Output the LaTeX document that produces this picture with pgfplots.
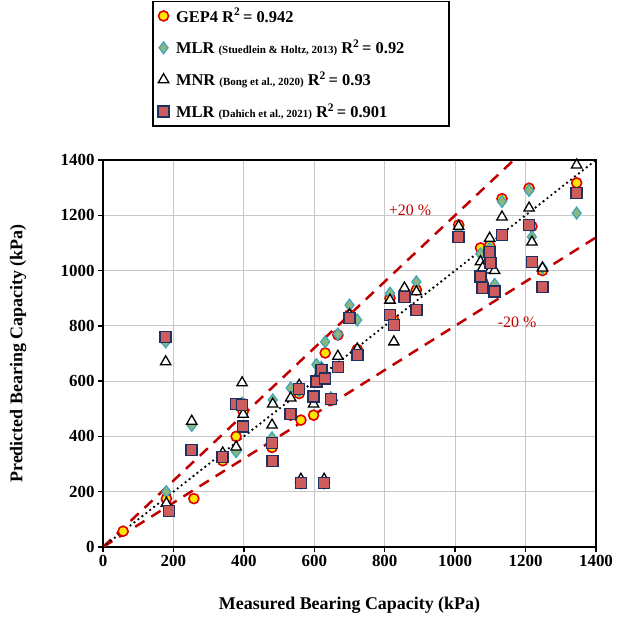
\documentclass[border=0pt]{standalone}
\usepackage{pgfplots}
\usepackage{pgfplotstable}
\pgfplotsset{compat=1.18}
\usepackage{fontspec}
\setmainfont{Liberation Serif}
\definecolor{darkred}{HTML}{C00000}
\definecolor{gepfill}{HTML}{FFE600}
\definecolor{gepdraw}{HTML}{E00000}
\definecolor{sfill}{HTML}{8FB67A}
\definecolor{sdraw}{HTML}{3AA6C0}
\definecolor{dfill}{HTML}{CD5C5C}
\definecolor{ddraw}{HTML}{1F2F5F}
\newcommand{\lgf}{\fontsize{16.5}{19}\selectfont\bfseries}
\newcommand{\smf}{\fontsize{11}{13}\selectfont\bfseries\frenchspacing}

\pgfplotstableread{
x     gep   s    mnr   d
57    57    nan  nan   nan
178   750   742  670   760
180   175   200  158   nan
188   nan   nan  nan   130
258   175   nan  nan   nan
252   nan   440  455   350
340   312   328  340   325
378   400   345  362   517
395   520   520  594   514
398   490   505  480   435
480   360   395  441   376
482   nan   532  517   311
533   477   575  539   482
557   555   565  585   571
562   459   nan  nan   nan
562   230   232  245   232
598   477   530  517   544
606   600   660  610   598
620   640   650  640   640
628   230   232  245   232
631   702   742  nan   610
647   530   540  nan   535
667   767   770  690   652
700   840   875  840   828
722   715   821  716   695
815   900   918  893   839
826   820   810  742   803
856   910   930  937   905
890   930   959  923   857
1010  1165  1150 1160  1121
1072  1082  1060 1032  978
1078  960   950  1010  937
1098  1090  1080 1117  1068
1100  1030  1010 1002  1027
1112  930   950  1000  924
1133  1260  1250 1194  1129
1210  1298  1290 1226  1165
1218  1160  1122 1103  1031
1248  1000  1010 1009  941
1345  1317  1208 1382  1281
}\datatable

\begin{document}
\begin{tikzpicture}[x=1bp,y=1bp]
\useasboundingbox (0,0) rectangle (633,619);
\begin{axis}[
  at={(103bp,72bp)}, anchor=south west,
  scale only axis, width=493bp, height=387bp,
  xmin=0, xmax=1400, ymin=0, ymax=1400,
  xtick={0,200,...,1400}, ytick={0,200,...,1400},
  grid=major, grid style={line width=1.2bp, black!22},
  axis line style={line width=2.5bp},
  tick style={line width=1.5bp, black},
  tick align=outside, major tick length=5bp,
  xtick pos=bottom, ytick pos=left,
  ticklabel style={font=\fontsize{17}{20}\selectfont\bfseries},
  /pgf/number format/assume math mode=true,
  /pgf/number format/1000 sep={},
  xlabel={Measured Bearing Capacity (kPa)},
  ylabel={Predicted Bearing Capacity (kPa)},
  label style={font=\fontsize{18}{21}\selectfont\bfseries},
  xlabel style={at={(axis description cs:0.5,-0.15)}, anchor=center},
  ylabel style={at={(axis description cs:-0.172,0.5)}, anchor=center},
  legend cell align=left,
  legend style={at={(axis description cs:0.10,1.412)}, anchor=north west,
    draw=black, line width=1.5bp, fill=white, row sep=12.5bp, column sep=5bp,
    inner xsep=5bp, inner ysep=5bp,
    font=\lgf},
]
\addplot[forget plot, darkred, line width=2.5bp, dash pattern=on 11bp off 8bp] coordinates {(0,0) (1166.7,1400)};
\addplot[forget plot, darkred, line width=2.5bp, dash pattern=on 11bp off 8bp] coordinates {(0,0) (1400,1120)};
\addplot[forget plot, black, line width=2.6bp, line cap=round, dash pattern=on 0bp off 5bp] coordinates {(0,0) (1400,1400)};

\addplot[only marks, mark=*, mark size=5bp, mark options={fill=gepfill, draw=gepdraw, line width=1.6bp, solid}]
  table[x=x, y=gep] {\datatable};
\addlegendentry{\makebox[266bp][l]{GEP4 R\textsuperscript{2}\,= 0.942}}
\addplot[only marks, mark=diamond*, mark size=6bp, mark options={fill=sfill, draw=sdraw, line width=1.2bp, solid}]
  table[x=x, y=s] {\datatable};
\addlegendentry{MLR {\smf(Stuedlein \& Holtz, 2013)} R\textsuperscript{2}\,= 0.92}
\addplot[only marks, mark=triangle*, mark size=6bp, mark options={fill=white, draw=black, line width=1.3bp, solid}]
  table[x=x, y=mnr] {\datatable};
\addlegendentry{MNR {\smf(Bong et al., 2020)} R\textsuperscript{2}\,= 0.93}
\addplot[only marks, mark=square*, mark size=5.5bp, mark options={fill=dfill, draw=ddraw, line width=1.5bp, solid}]
  table[x=x, y=d] {\datatable};
\addlegendentry{MLR {\smf(Dahich et al., 2021)} R\textsuperscript{2}\,= 0.901}

\node[darkred, font=\fontsize{16}{19}\selectfont] at (axis cs:872,1219) {+20 \%};
\node[darkred, font=\fontsize{16}{19}\selectfont] at (axis cs:1176,814) {-20 \%};
\end{axis}
\end{tikzpicture}
\end{document}
